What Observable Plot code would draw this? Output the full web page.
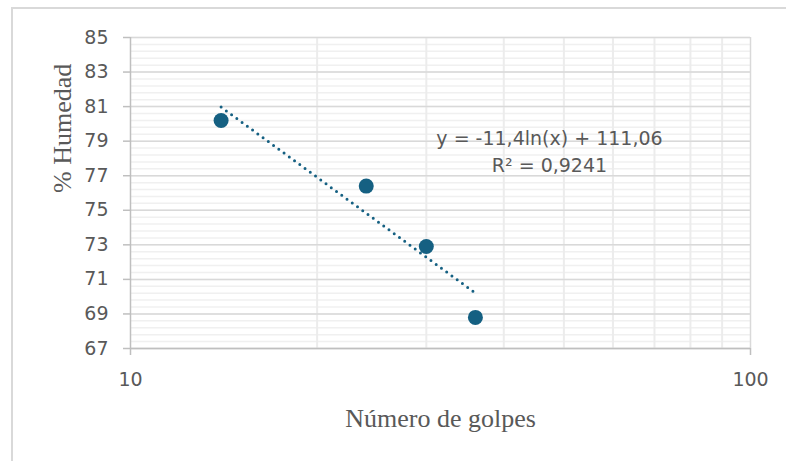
<!DOCTYPE html>
<html>
<head>
<meta charset="utf-8">
<script src="https://cdn.jsdelivr.net/npm/d3@7"></script>
<script src="https://cdn.jsdelivr.net/npm/@observablehq/plot@0.6"></script>
<style>
  html, body { margin: 0; padding: 0; background: #ffffff; }
  #wrap { position: relative; width: 786px; height: 461px; overflow: hidden; }
  #wrap svg { display: block; }
  #border { position: absolute; left: 11px; top: 7px; right: -4px; bottom: -4px;
            border-left: 2px solid #d9d9d9; border-top: 2px solid #d9d9d9; pointer-events: none; }
</style>
</head>
<body>
<div id="wrap"><div id="border"></div></div>
<script>
// Data
const golpes = [14, 24, 30, 36];
const humedad = [80.2, 76.4, 72.9, 68.8];

// Logarithmic trendline reported on the chart: y = -11,4 ln(x) + 111,06
const trendA = -11.4;
const trendB = 111.06;
const trendRange = [14, 36];

// Axis ticks and gridlines
const yTicks = [67, 69, 71, 73, 75, 77, 79, 81, 83, 85];
const yMinorStep = 0.4;
const xTicks = [10, 100];
const xMinor = [20, 30, 40, 50, 60, 70, 80, 90];

// Annotation
const eqText = ["y = -11,4ln(x) + 111,06\nR² = 0,9241"];
const eqX = [47.4];
const eqY = [78.52];

const points = golpes.map((g, i) => ({x: g, y: humedad[i]}));
const trend = trendRange.map(x => ({x, y: trendA * Math.log(x) + trendB}));
const yMinor = d3.range(0, 46).map(i => +(67 + i * yMinorStep).toFixed(2));
const eq = eqText.map((t, i) => ({x: eqX[i], y: eqY[i], text: t}));

const sans = "'DejaVu Sans', 'Liberation Sans', sans-serif";
const serif = "'Liberation Serif', 'Times New Roman', serif";

const chart = Plot.plot({
  width: 786,
  height: 461,
  marginLeft: 130,
  marginRight: 36,
  marginTop: 37,
  marginBottom: 113,
  x: {type: "log", domain: [10, 100]},
  y: {domain: [67, 85]},
  style: {fontFamily: sans, color: "#595959", background: "transparent"},
  marks: [
    Plot.ruleY(yMinor, {stroke: "#f0f0f0", strokeWidth: 1.5}),
    Plot.ruleX(xMinor, {stroke: "#ececec", strokeWidth: 2}),
    Plot.ruleY(yTicks, {stroke: "#d9d9d9", strokeWidth: 1.5}),
    Plot.ruleX([100], {stroke: "#d9d9d9", strokeWidth: 1.5}),
    Plot.ruleX([10], {stroke: "#bfbfbf", strokeWidth: 1.5}),
    Plot.ruleY([67], {stroke: "#bfbfbf", strokeWidth: 1.5}),
    Plot.axisY({ticks: yTicks, tickSize: 7, tickPadding: 15, fontSize: 19, stroke: "#bfbfbf", strokeWidth: 1.5, label: null}),
    Plot.axisX({ticks: xTicks, tickFormat: d => String(d), tickSize: 7, tickPadding: 17, fontSize: 19, stroke: "#bfbfbf", strokeWidth: 1.5, label: null}),
    Plot.line(trend, {x: "x", y: "y", stroke: "#156082", strokeWidth: 3, strokeDasharray: "0 6.5", strokeLinecap: "round"}),
    Plot.dot(points, {x: "x", y: "y", r: 7.5, fill: "#156082"}),
    Plot.text(eq, {x: "x", y: "y", text: "text", fontSize: 19, fill: "#595959", lineHeight: 1.45, textAnchor: "middle"}),
    Plot.text(["Número de golpes"], {frameAnchor: "bottom", dy: 78, lineAnchor: "bottom", fontSize: 26, fontFamily: serif, fill: "#595959"}),
    Plot.text(["% Humedad"], {frameAnchor: "left", dx: -60, rotate: -90, lineAnchor: "bottom", fontSize: 26, fontFamily: serif, fill: "#595959"})
  ]
});
document.getElementById("wrap").insertBefore(chart, document.getElementById("border"));
</script>
</body>
</html>
